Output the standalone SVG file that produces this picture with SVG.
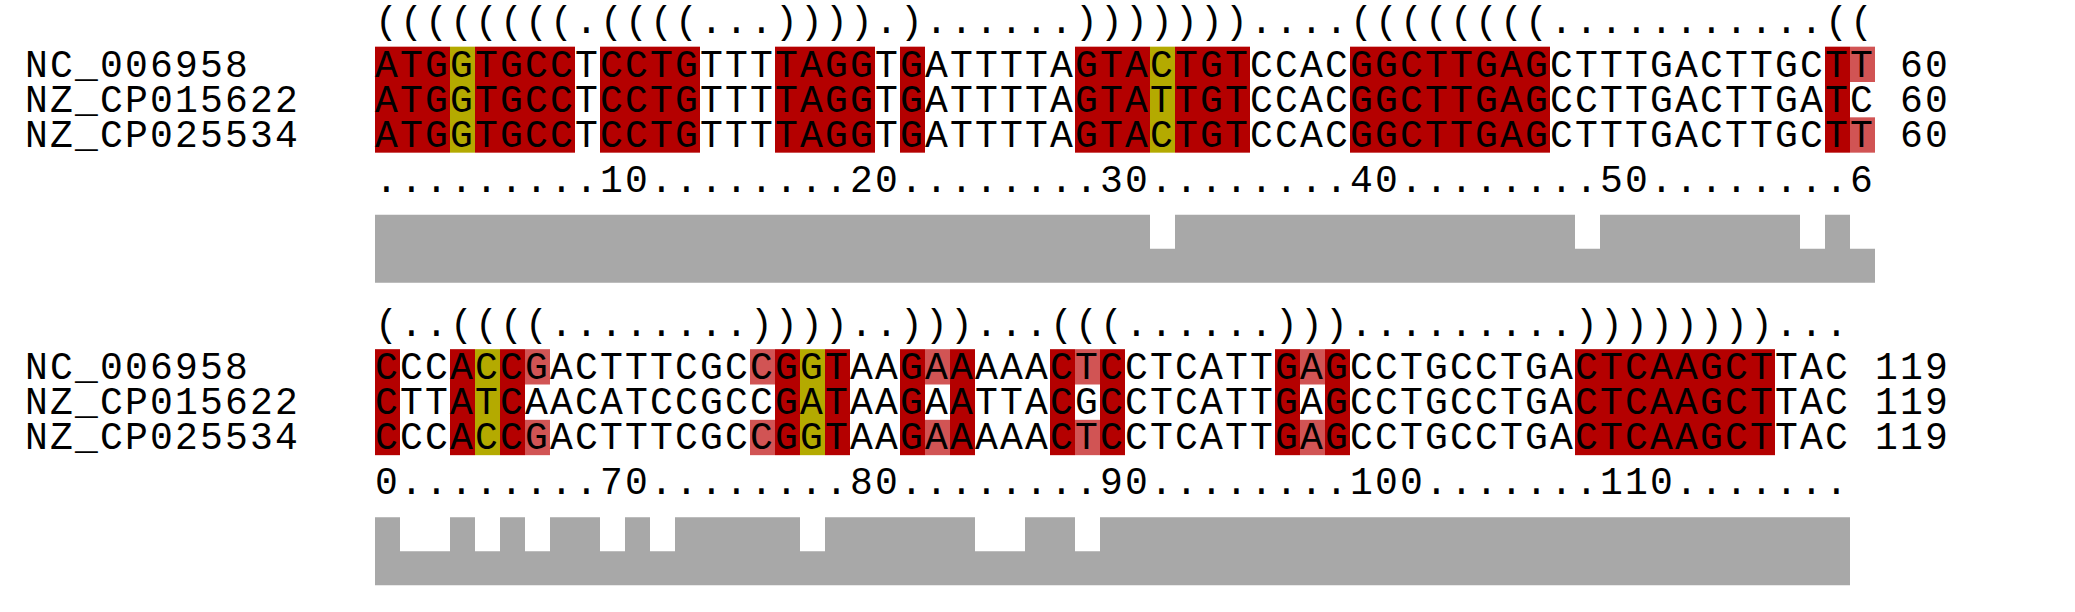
<svg xmlns="http://www.w3.org/2000/svg" width="2075" height="612" viewBox="0 0 2075 612">
<style>
text{font-family:"Liberation Mono","DejaVu Sans Mono",monospace;font-size:38px;letter-spacing:2.196px;fill:#000}
.r{fill:#b40000}
.o{fill:#b4aa00}
.l{fill:#d15454}
.bar{fill:#a8a8a8}
</style>
<rect width="2075" height="612" fill="#fff"/>
<g id="block1">
  <g id="cells1">
    <rect class="r" x="375" y="46.67" width="75" height="106"/>
    <rect class="o" x="450" y="46.67" width="25" height="106"/>
    <rect class="r" x="475" y="46.67" width="100" height="106"/>
    <rect class="r" x="600" y="46.67" width="100" height="106"/>
    <rect class="r" x="775" y="46.67" width="100" height="106"/>
    <rect class="r" x="900" y="46.67" width="25" height="106"/>
    <rect class="r" x="1075" y="46.67" width="75" height="106"/>
    <rect class="o" x="1150" y="46.67" width="25" height="106"/>
    <rect class="r" x="1175" y="46.67" width="75" height="106"/>
    <rect class="r" x="1350" y="46.67" width="200" height="106"/>
    <rect class="r" x="1825" y="46.67" width="25" height="106"/>
    <rect class="l" x="1850" y="46.67" width="25" height="35.33"/>
    <rect class="l" x="1850" y="117.33" width="25" height="35.33"/>
  </g>
  <text id="struct1" x="375" y="33">((((((((.((((...)))).)......)))))))....((((((((...........((</text>
  <g id="rows1">
    <text x="25" y="76.5">NC_006958</text>
    <text x="375" y="76.5">ATGGTGCCTCCTGTTTTAGGTGATTTTAGTACTGTCCACGGCTTGAGCTTTGACTTGCTT</text>
    <text x="1900" y="76.5">60</text>
    <text x="25" y="111.7">NZ_CP015622</text>
    <text x="375" y="111.7">ATGGTGCCTCCTGTTTTAGGTGATTTTAGTATTGTCCACGGCTTGAGCCTTGACTTGATC</text>
    <text x="1900" y="111.7">60</text>
    <text x="25" y="146.9">NZ_CP025534</text>
    <text x="375" y="146.9">ATGGTGCCTCCTGTTTTAGGTGATTTTAGTACTGTCCACGGCTTGAGCTTTGACTTGCTT</text>
    <text x="1900" y="146.9">60</text>
  </g>
  <text id="ruler1" x="375" y="191.5">.........10........20........30........40........50........6</text>
  <path id="cons1" class="bar" d="M375,282.7V214.7H1150V248.7H1175V214.7H1575V248.7H1600V214.7H1800V248.7H1825V214.7H1850V248.7H1875V282.7Z"/>
</g>
<g id="block2" transform="translate(0,302.5)">
  <g id="cells2">
    <rect class="r" x="375" y="46.67" width="25" height="106"/>
    <rect class="r" x="450" y="46.67" width="25" height="106"/>
    <rect class="o" x="475" y="46.67" width="25" height="106"/>
    <rect class="r" x="500" y="46.67" width="25" height="106"/>
    <rect class="l" x="525" y="46.67" width="25" height="35.33"/>
    <rect class="l" x="525" y="117.33" width="25" height="35.33"/>
    <rect class="l" x="750" y="46.67" width="25" height="35.33"/>
    <rect class="l" x="750" y="117.33" width="25" height="35.33"/>
    <rect class="r" x="775" y="46.67" width="25" height="106"/>
    <rect class="o" x="800" y="46.67" width="25" height="106"/>
    <rect class="r" x="825" y="46.67" width="25" height="106"/>
    <rect class="r" x="900" y="46.67" width="25" height="106"/>
    <rect class="l" x="925" y="46.67" width="25" height="35.33"/>
    <rect class="l" x="925" y="117.33" width="25" height="35.33"/>
    <rect class="r" x="950" y="46.67" width="25" height="106"/>
    <rect class="r" x="1050" y="46.67" width="25" height="106"/>
    <rect class="l" x="1075" y="46.67" width="25" height="35.33"/>
    <rect class="l" x="1075" y="117.33" width="25" height="35.33"/>
    <rect class="r" x="1100" y="46.67" width="25" height="106"/>
    <rect class="r" x="1275" y="46.67" width="25" height="106"/>
    <rect class="l" x="1300" y="46.67" width="25" height="35.33"/>
    <rect class="l" x="1300" y="117.33" width="25" height="35.33"/>
    <rect class="r" x="1325" y="46.67" width="25" height="106"/>
    <rect class="r" x="1575" y="46.67" width="200" height="106"/>
  </g>
  <text id="struct2" x="375" y="33">(..((((........))))..)))...(((......))).........))))))))...</text>
  <g id="rows2">
    <text x="25" y="76.5">NC_006958</text>
    <text x="375" y="76.5">CCCACCGACTTTCGCCGGTAAGAAAAACTCCTCATTGAGCCTGCCTGACTCAAGCTTAC</text>
    <text x="1875" y="76.5">119</text>
    <text x="25" y="111.7">NZ_CP015622</text>
    <text x="375" y="111.7">CTTATCAACATCCGCCGATAAGAATTACGCCTCATTGAGCCTGCCTGACTCAAGCTTAC</text>
    <text x="1875" y="111.7">119</text>
    <text x="25" y="146.9">NZ_CP025534</text>
    <text x="375" y="146.9">CCCACCGACTTTCGCCGGTAAGAAAAACTCCTCATTGAGCCTGCCTGACTCAAGCTTAC</text>
    <text x="1875" y="146.9">119</text>
  </g>
  <text id="ruler2" x="375" y="191.5">0........70........80........90........100.......110.......</text>
  <path id="cons2" class="bar" d="M375,282.7V214.7H400V248.7H450V214.7H475V248.7H500V214.7H525V248.7H550V214.7H600V248.7H625V214.7H650V248.7H675V214.7H800V248.7H825V214.7H975V248.7H1025V214.7H1075V248.7H1100V214.7H1850V282.7Z"/>
</g>
</svg>
